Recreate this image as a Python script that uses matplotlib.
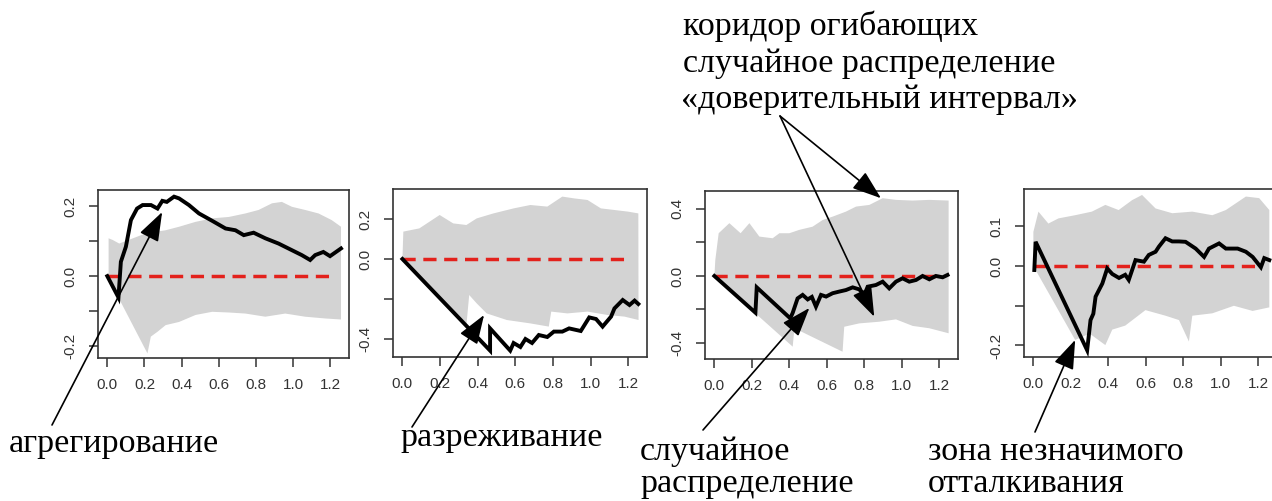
import matplotlib
matplotlib.use("Agg")
import matplotlib.pyplot as plt

W, H = 1272, 501

# panel 1 - aggregation
p1_x = [0.0, 0.06, 0.073, 0.10, 0.127, 0.16, 0.19, 0.235, 0.27, 0.296, 0.32, 0.359, 0.386,
        0.439, 0.493, 0.564, 0.636, 0.689, 0.734, 0.787, 0.85, 0.921, 0.993, 1.046, 1.091,
        1.118, 1.162, 1.198, 1.257]
p1_y = [0.0, -0.061, 0.041, 0.084, 0.16, 0.193, 0.203, 0.203, 0.193, 0.215, 0.212, 0.227, 0.222,
        0.203, 0.179, 0.158, 0.136, 0.131, 0.117, 0.124, 0.108, 0.093, 0.074, 0.06, 0.046,
        0.06, 0.069, 0.057, 0.079]
p1_up_x = [0.007, 0.03, 0.064, 0.207, 0.314, 0.386, 0.475, 0.564, 0.654, 0.743, 0.814, 0.886,
           0.939, 0.993, 1.064, 1.136, 1.207, 1.257]
p1_up_y = [0.108, 0.103, 0.093, 0.122, 0.131, 0.141, 0.155, 0.165, 0.169, 0.179, 0.189, 0.208,
           0.212, 0.198, 0.189, 0.179, 0.16, 0.141]
p1_lo_x = [0.007, 0.216, 0.234, 0.27, 0.314, 0.386, 0.475, 0.564, 0.654, 0.743, 0.85, 0.957,
           1.064, 1.171, 1.257]
p1_lo_y = [-0.007, -0.221, -0.173, -0.159, -0.14, -0.131, -0.111, -0.102, -0.104, -0.107, -0.116,
           -0.107, -0.116, -0.121, -0.124]

# panel 2 - thinning
p2_x = [0.0, 0.466, 0.466, 0.573, 0.591, 0.627, 0.654, 0.689, 0.725, 0.77, 0.805, 0.85, 0.886,
        0.948, 0.993, 1.029, 1.064, 1.109, 1.127, 1.171, 1.207, 1.234, 1.254]
p2_y = [0.0, -0.458, -0.347, -0.458, -0.42, -0.44, -0.40, -0.42, -0.38, -0.39, -0.363, -0.363,
        -0.347, -0.36, -0.292, -0.30, -0.338, -0.288, -0.247, -0.205, -0.23, -0.208, -0.225]
p2_up_x = [0.005, 0.09, 0.198, 0.27, 0.34, 0.395, 0.484, 0.591, 0.68, 0.77, 0.85, 0.913, 0.984,
           1.055, 1.127, 1.198, 1.254]
p2_up_y = [0.137, 0.153, 0.22, 0.178, 0.17, 0.203, 0.228, 0.253, 0.27, 0.262, 0.312, 0.303, 0.295,
           0.253, 0.245, 0.237, 0.228]
p2_lo_x = [0.0, 0.341, 0.355, 0.395, 0.448, 0.555, 0.68, 0.778, 0.791, 0.877, 0.984, 1.091, 1.18,
           1.255]
p2_lo_y = [-0.003, -0.322, -0.18, -0.222, -0.272, -0.305, -0.322, -0.338, -0.263, -0.272, -0.263,
           -0.28, -0.288, -0.305]

# panel 3 - random
p3_x = [0.0, 0.219, 0.226, 0.405, 0.418, 0.444, 0.471, 0.498, 0.52, 0.542, 0.569, 0.596, 0.631,
        0.667, 0.702, 0.738, 0.773, 0.8, 0.818, 0.862, 0.898, 0.933, 0.969, 1.004, 1.04, 1.076,
        1.111, 1.147, 1.182, 1.218, 1.244]
p3_y = [0.0, -0.219, -0.068, -0.253, -0.22, -0.134, -0.113, -0.14, -0.125, -0.183, -0.113, -0.123,
        -0.103, -0.093, -0.084, -0.068, -0.08, -0.113, -0.064, -0.054, -0.034, -0.074, -0.034,
        -0.014, -0.034, -0.024, 0.0, -0.02, 0.0, -0.008, 0.006]
p3_up_x = [0.005, 0.023, 0.08, 0.14, 0.187, 0.24, 0.311, 0.347, 0.4, 0.453, 0.524, 0.578, 0.631,
           0.702, 0.756, 0.827, 0.898, 0.969, 1.058, 1.147, 1.25]
p3_up_y = [0.095, 0.255, 0.315, 0.255, 0.315, 0.235, 0.225, 0.255, 0.255, 0.275, 0.294, 0.334,
           0.354, 0.384, 0.414, 0.424, 0.464, 0.454, 0.45, 0.454, 0.45]
p3_lo_x = [0.0, 0.418, 0.427, 0.684, 0.693, 0.773, 0.88, 0.969, 1.058, 1.147, 1.25]
p3_lo_y = [-0.004, -0.422, -0.312, -0.452, -0.303, -0.283, -0.273, -0.259, -0.298, -0.312, -0.342]

# panel 4 - weak repulsion
p4_x = [0.005, 0.012, 0.287, 0.305, 0.32, 0.332, 0.368, 0.394, 0.421, 0.457, 0.49, 0.509, 0.545,
        0.59, 0.616, 0.652, 0.67, 0.705, 0.741, 0.777, 0.812, 0.866, 0.911, 0.937, 0.991, 1.027,
        1.09, 1.134, 1.17, 1.214, 1.232, 1.259]
p4_y = [-0.01, 0.061, -0.212, -0.136, -0.12, -0.077, -0.044, -0.006, -0.02, -0.03, -0.022, -0.035,
        0.015, 0.011, 0.028, 0.036, 0.049, 0.07, 0.062, 0.062, 0.061, 0.044, 0.023, 0.044, 0.057,
        0.044, 0.044, 0.036, 0.023, -0.003, 0.02, 0.015]
p4_up_x = [0.0, 0.027, 0.08, 0.134, 0.223, 0.312, 0.384, 0.455, 0.527, 0.58, 0.652, 0.741, 0.848,
           0.955, 1.027, 1.134, 1.205, 1.259]
p4_up_y = [0.086, 0.137, 0.107, 0.12, 0.128, 0.137, 0.154, 0.141, 0.166, 0.179, 0.145, 0.133,
           0.137, 0.128, 0.141, 0.175, 0.171, 0.141]
p4_lo_x = [0.0, 0.223, 0.3, 0.384, 0.421, 0.49, 0.598, 0.705, 0.777, 0.83, 0.848, 0.955, 1.07,
           1.17, 1.259]
p4_lo_y = [0.0, -0.186, -0.17, -0.199, -0.16, -0.15, -0.111, -0.125, -0.136, -0.19, -0.125,
           -0.119, -0.1, -0.113, -0.104]

x_ticks = [0.0, 0.2, 0.4, 0.6, 0.8, 1.0, 1.2]
x_labels = ["0.0", "0.2", "0.4", "0.6", "0.8", "1.0", "1.2"]

panels = [
    # box in pixels (left, top, right, bottom), ylim, yticks, ylabels, data
    dict(box=(98, 190, 349, 358), ylim=(-0.234, 0.246),
         yt=[-0.2, -0.1, 0.0, 0.1, 0.2], yl=["-0.2", "", "0.0", "", "0.2"],
         obs=(p1_x, p1_y), up=(p1_up_x, p1_up_y), lo=(p1_lo_x, p1_lo_y)),
    dict(box=(393, 189, 647, 357), ylim=(-0.49, 0.35),
         yt=[-0.4, -0.2, 0.0, 0.2], yl=["-0.4", "", "0.0", "0.2"],
         obs=(p2_x, p2_y), up=(p2_up_x, p2_up_y), lo=(p2_lo_x, p2_lo_y)),
    dict(box=(705, 191, 958, 359), ylim=(-0.4955, 0.507),
         yt=[-0.4, -0.2, 0.0, 0.2, 0.4], yl=["-0.4", "", "0.0", "", "0.4"],
         obs=(p3_x, p3_y), up=(p3_up_x, p3_up_y), lo=(p3_lo_x, p3_lo_y)),
    dict(box=(1024, 189, 1277, 357), ylim=(-0.229, 0.194),
         yt=[-0.2, -0.1, 0.0, 0.1], yl=["-0.2", "", "0.0", "0.1"],
         obs=(p4_x, p4_y), up=(p4_up_x, p4_up_y), lo=(p4_lo_x, p4_lo_y)),
]

fig = plt.figure(figsize=(W / 100, H / 100), dpi=100)
fig.patch.set_facecolor("white")

axes = []
for p in panels:
    l, t, r, b = p["box"]
    ax = fig.add_axes([l / W, 1 - b / H, (r - l) / W, (b - t) / H])
    ux, uy = p["up"]
    lx, ly = p["lo"]
    ax.fill(list(ux) + list(lx[::-1]), list(uy) + list(ly[::-1]),
            color="#d3d3d3", lw=0, zorder=1)
    ax.plot([0, 1.2], [0, 0], color="#e3211c", lw=2.5, dashes=(3.8, 2.2), zorder=2)
    ox, oy = p["obs"]
    ax.plot(ox, oy, color="black", lw=2.8, zorder=3, solid_joinstyle="miter")
    ax.set_xlim(-0.05, 1.30)
    ax.set_ylim(*p["ylim"])
    ax.set_xticks(x_ticks)
    ax.set_xticklabels(x_labels)
    ax.set_yticks(p["yt"])
    ax.set_yticklabels(p["yl"], rotation=90, va="center")
    ax.tick_params(direction="out", length=6.5, width=1.1, color="#333333",
                   labelcolor="#333333", labelsize=11, pad=8)
    for s in ax.spines.values():
        s.set_color("#333333")
        s.set_linewidth(1.2)
    for lab in ax.get_xticklabels() + ax.get_yticklabels():
        lab.set_family(["Liberation Sans", "DejaVu Sans"])
    axes.append(ax)


def fpx(x, y):
    return (x / W, 1 - y / H)


arrow = dict(arrowstyle="-|>,head_length=0.9,head_width=0.32", color="black",
             lw=1.2, shrinkA=0, shrinkB=0, mutation_scale=20)

axes[0].annotate("", xy=(0.295, 0.183), xycoords="data", xytext=fpx(52, 425),
                 textcoords="figure fraction", arrowprops=arrow, annotation_clip=False)
axes[1].annotate("", xy=(0.434, -0.28), xycoords="data", xytext=fpx(412, 427),
                 textcoords="figure fraction", arrowprops=arrow, annotation_clip=False)
axes[2].annotate("", xy=(0.507, -0.191), xycoords="data", xytext=fpx(703, 430),
                 textcoords="figure fraction", arrowprops=arrow, annotation_clip=False)
axes[3].annotate("", xy=(0.223, -0.186), xycoords="data", xytext=fpx(1035, 432),
                 textcoords="figure fraction", arrowprops=arrow, annotation_clip=False)
axes[2].annotate("", xy=(0.889, 0.464), xycoords="data", xytext=fpx(780, 116),
                 textcoords="figure fraction", arrowprops=arrow, annotation_clip=False)
axes[2].annotate("", xy=(0.853, -0.243), xycoords="data", xytext=fpx(780, 116),
                 textcoords="figure fraction", arrowprops=arrow, annotation_clip=False)

serif = dict(family=["Liberation Serif", "DejaVu Serif"], fontsize=24.5, color="black",
             va="baseline", ha="left")
fig.text(*fpx(683, 35), "коридор огибающих", **serif)
fig.text(*fpx(683, 72), "случайное распределение", **serif)
fig.text(*fpx(681, 108), "«доверительный интервал»", **serif)
fig.text(*fpx(9, 452), "агрегирование", **serif)
fig.text(*fpx(400, 446), "разреживание", **serif)
fig.text(*fpx(640, 460), "случайное", **serif)
fig.text(*fpx(640, 492), "распределение", **serif)
fig.text(*fpx(928, 460), "зона незначимого", **serif)
fig.text(*fpx(928, 492), "отталкивания", **serif)

fig.savefig("out.png", dpi=100)
